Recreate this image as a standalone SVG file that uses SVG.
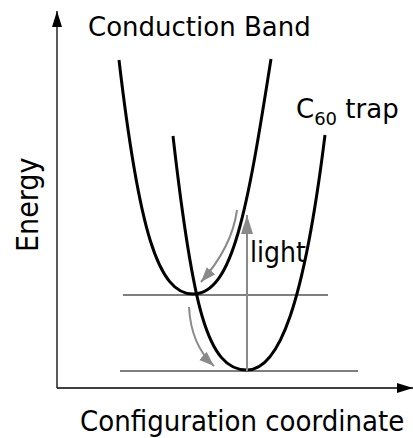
<svg xmlns="http://www.w3.org/2000/svg" width="413" height="438" viewBox="0 0 413 438">
<style>
.curve{fill:none;stroke:#000;stroke-width:3;stroke-linecap:butt}
.level{fill:none;stroke:#555;stroke-width:1.5}
.axis{fill:none;stroke:#000;stroke-width:1.3}
.garrow{fill:none;stroke:#8a8a8a;stroke-width:2}
.t{font-family:"DejaVu Sans",Verdana,sans-serif;fill:#000}
.tc{font-family:"DejaVu Sans Condensed","DejaVu Sans",sans-serif;fill:#000}
</style>
<defs>
<marker id="axh" markerUnits="userSpaceOnUse" markerWidth="18" markerHeight="12" refX="16" refY="5" orient="auto">
<path d="M0,0 L16,5 L0,10 Z" fill="#000"/>
</marker>
<marker id="gah" markerUnits="userSpaceOnUse" markerWidth="22" markerHeight="14" refX="19" refY="6" orient="auto">
<path d="M0,0 L19,6 L0,12 Z" fill="#8a8a8a"/>
</marker>
<marker id="gah2" markerUnits="userSpaceOnUse" markerWidth="18" markerHeight="14" refX="15" refY="5.5" orient="auto">
<path d="M0,0 L15,5.5 L0,11 Z" fill="#8a8a8a"/>
</marker>
</defs>
<g id="axes">
<line class="axis" x1="57" y1="388" x2="57" y2="11" marker-end="url(#axh)"/>
<line class="axis" x1="57" y1="388" x2="413" y2="388" marker-end="url(#axh)"/>
</g>
<g id="levels">
<line class="level" x1="123" y1="295" x2="328" y2="295"/>
<line class="level" x1="120" y1="371" x2="358" y2="371"/>
</g>
<g id="conduction-band">
<path class="curve" d="M119,60 C138.9,230 158,294 193,294 C233,294 247.4,209 271,59"/>
</g>
<g id="c60-trap">
<path class="curve" d="M173,136 C192.4,306 207,370 247,370 C279,370 304,305 325,135"/>
</g>
<g id="connectors">
<line class="garrow" x1="247" y1="371" x2="247" y2="215" marker-end="url(#gah)"/>
<path class="garrow" d="M237,210 Q232,247 201,282" marker-end="url(#gah2)"/>
<path class="garrow" d="M189,307 Q191,345 214,366" marker-end="url(#gah2)"/>
</g>
<g id="labels">
<text class="t" x="88" y="36" font-size="26">Conduction Band</text>
<text class="t" x="296" y="118" font-size="26">C<tspan font-size="18" dy="7">60</tspan><tspan dy="-7"> trap</tspan></text>
<text class="tc" x="250" y="262" font-size="28">light</text>
<text class="tc" transform="translate(38,252) rotate(-90)" font-size="30">Energy</text>
<text class="tc" x="80" y="431" font-size="29">Configuration coordinate</text>
</g>
</svg>
